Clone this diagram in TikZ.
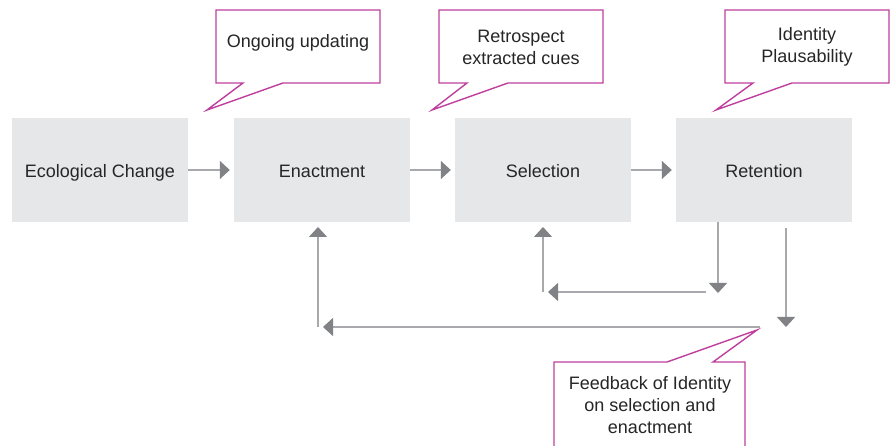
\documentclass[tikz,border=0pt]{standalone}
\usepackage{fontspec}
\setmainfont{Liberation Sans}
\usetikzlibrary{arrows.meta}
\definecolor{boxgray}{HTML}{E6E7E8}
\definecolor{linegray}{HTML}{A7A9AC}
\definecolor{tipgray}{HTML}{808285}
\definecolor{calloutpink}{HTML}{BF3F9F}
\definecolor{textgray}{HTML}{262626}

\begin{document}
\begin{tikzpicture}[x=1pt,y=-1pt]
				\tikzstyle{stage} = [rectangle,fill=boxgray,minimum width=176pt,minimum height=104pt,inner sep=0pt,text height=16pt,text depth=0pt,text=textgray,font=\fontsize{18}{22}\selectfont]
				\tikzstyle{note} = [align=center,text=textgray,font=\fontsize{18}{22}\selectfont]
				\tikzstyle{callout} = [draw=calloutpink,line width=1.4pt,fill=white,line join=miter]
				\tikzstyle{flow} = [draw=linegray,line width=1.5pt,-{Triangle[length=10pt,width=18pt,fill=tipgray,color=tipgray]}]
				\useasboundingbox (0,0) rectangle (892,446);
				% the four stages
				\node[stage] (eco) at (100,170) {Ecological Change};
				\node[stage] (enact) at (322,170) {Enactment};
				\node[stage] (sel) at (543,170) {Selection};
				\node[stage] (ret) at (764,170) {Retention};
				\draw[flow,shorten >=4pt] (eco) -- (enact);
				\draw[flow,shorten >=4pt] (enact) -- (sel);
				\draw[flow,shorten >=4pt] (sel) -- (ret);
				% feedback loops
				\coordinate (s1) at (718,222);
				\coordinate (s2) at (718,293);
				\coordinate (s3) at (706,292);
				\coordinate (s4) at (548,292);
				\coordinate (s5) at (543,292);
				\coordinate (s6) at (543,227);
				\coordinate (l1) at (786,228);
				\coordinate (l2) at (786,327);
				\coordinate (l3) at (760,327);
				\coordinate (l4) at (323,327);
				\coordinate (l5) at (318,327);
				\coordinate (l6) at (318,227);
				\draw[flow] (s1) -- (s2);
				\draw[flow] (s3) -- (s4);
				\draw[flow] (s5) -- (s6);
				\draw[flow] (l1) -- (l2);
				\draw[flow] (l3) -- (l4);
				\draw[flow] (l5) -- (l6);
				% speech bubbles
				\draw[callout] (216,10) -- (380,10) -- (380,83) -- (283,83) -- (207,110) -- (243,83) -- (216,83) -- cycle;
				\node[note] (upd) at (298,43) {Ongoing updating};
				\draw[callout] (439,10) -- (603,10) -- (603,83) -- (508,83) -- (432,110) -- (467,83) -- (439,83) -- cycle;
				\node[note] (cues) at (521,47) {Retrospect\\extracted cues};
				\draw[callout] (725,10) -- (889,10) -- (889,83) -- (792,83) -- (716,110) -- (753,83) -- (725,83) -- cycle;
				\node[note] (plaus) at (807,47) {Identity\\Plausability};
				\draw[callout] (554,452) -- (554,362) -- (667,362) -- (757,330) -- (713,362) -- (745,362) -- (745,452);
				\node[note] (fb) at (650,405) {Feedback of Identity\\on selection and\\enactment};
\end{tikzpicture}
\end{document}
